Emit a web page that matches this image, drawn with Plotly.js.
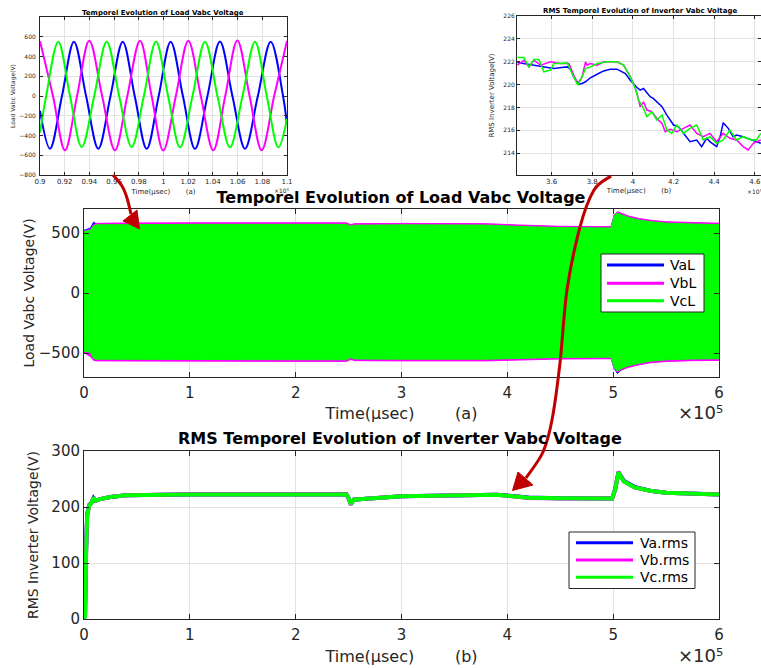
<!DOCTYPE html>
<html><head><meta charset="utf-8">
<script src="https://cdn.plot.ly/plotly-3.0.1.min.js"></script>
<style>html,body{margin:0;padding:0;background:#fff;}#chart{width:761px;height:668px;}</style>
</head><body><div id="chart"></div>
<script>
// ================= DATA =================
const loadNames = ['VaL', 'VbL', 'VcL'];
const rmsNames = ['Va.rms', 'Vb.rms', 'Vc.rms'];
const colors = ['#0000ff', '#ff00ff', '#00ff00'];

// (a) Load voltage envelope (time in x10^5 µsec)
const tEnv = [0, 0.005, 0.06, 0.09, 0.12, 0.3, 1.0, 2.0, 2.48, 2.52, 2.56, 3.0, 3.8, 4.1, 4.5, 4.98, 5.01, 5.04, 5.08, 5.15, 5.25, 5.35, 5.5, 5.75, 5.97, 6.0];
const vaUp = [0, 525, 540, 590, 575, 577, 578, 578, 578, 563, 571, 573, 571, 560, 550, 547, 645, 672, 655, 633, 612, 600, 588, 580, 576, 576];
const vaLo = [0, -490, -500, -555, -560, -562, -563, -563, -563, -550, -557, -559, -559, -552, -544, -542, -628, -670, -640, -612, -592, -575, -564, -557, -555, -555];
const vbUp = [0, 520, 530, 572, 580, 583, 585, 585, 585, 570, 578, 580, 578, 567, 556, 553, 650, 678, 662, 640, 620, 607, 594, 587, 582, 582];
const vbLo = [0, -500, -530, -560, -566, -568, -570, -570, -570, -555, -564, -566, -566, -558, -550, -548, -630, -660, -640, -618, -598, -582, -571, -564, -562, -562];
const vcUp = [0, 515, 522, 560, 568, 570, 572, 572, 572, 558, 565, 568, 566, 555, 545, 542, 640, 668, 650, 628, 607, 595, 582, 575, 570, 570];
const vcLo = [0, -487, -492, -545, -552, -554, -556, -556, -556, -540, -550, -552, -552, -545, -537, -535, -620, -653, -628, -605, -585, -568, -557, -550, -548, -548];

// (b) RMS inverter voltage
const tRms = [0, 0.01, 0.02, 0.03, 0.05, 0.07, 0.09, 0.11, 0.15, 0.25, 0.4, 0.7, 1.0, 1.5, 2.0, 2.48, 2.5, 2.52, 2.55, 2.6, 3.0, 3.5, 3.9, 4.05, 4.2, 4.5, 4.99, 5.02, 5.05, 5.07, 5.1, 5.2, 5.35, 5.5, 5.8, 6.0];
const vaRms = [0, 8, 125, 188, 204, 208, 216, 211, 214, 218, 221, 222, 222.3, 222.4, 222.4, 222.4, 216, 206, 213, 214, 219, 221.4, 221.8, 219.5, 216.8, 215.6, 215, 233, 262, 256, 247, 236, 229, 225.5, 223, 222.5];
const vbRms = [0, 6, 122, 186, 203, 207, 217, 211, 214, 218, 221, 222, 222.6, 222.6, 222.6, 222.6, 215, 204, 213, 214, 219, 221.6, 222, 219, 216.2, 215.4, 215, 231, 263, 255, 246, 235, 229, 225.5, 223, 222.5];
const vcRms = [0, 5, 120, 185, 203, 207, 217, 211, 214, 218, 221, 222, 222.5, 222.5, 222.5, 222.5, 216, 205, 213, 214, 219, 221.5, 222, 219, 216.5, 215.5, 215, 232, 262, 255, 246, 235, 229, 225.5, 223, 222.5];

// inset (a): zoom on load voltages 0.9 - 1.1 x10^5
const zaX = [0.9, 0.9081, 0.9178, 0.9275, 0.9373, 0.9472, 0.9571, 0.9670, 0.9767, 0.9864, 0.9961, 1.0058, 1.0157, 1.0255, 1.0356, 1.0457, 1.0558, 1.0660, 1.0764, 1.0868, 1.0968, 1.1];
const zaY = [-150, -533, 0, 550, 0, -533, 0, 550, 0, -535, 0, 550, 0, -535, 0, 552, 0, -533, 0, 550, 0, -290];
const zbX = [0.9, 0.9105, 0.9202, 0.9300, 0.9399, 0.9503, 0.9607, 0.9707, 0.9810, 0.9904, 0.9998, 1.0100, 1.0201, 1.0302, 1.0403, 1.0500, 1.0598, 1.0697, 1.0795, 1.0896, 1.1];
const zbY = [555, 0, -550, 0, 560, 0, -550, 0, 560, 0, -552, 0, 560, 0, -550, 0, 562, 0, -550, 0, 558];
const zcX = [0.9, 0.9050, 0.9148, 0.9243, 0.9338, 0.9439, 0.9540, 0.9641, 0.9742, 0.9841, 0.9939, 1.0037, 1.0134, 1.0235, 1.0336, 1.0437, 1.0538, 1.0640, 1.0741, 1.0836, 1.0930, 1.1];
const zcY = [-370, 0, 550, 0, -517, 0, 550, 0, -517, 0, 552, 0, -520, 0, 550, 0, -520, 0, 550, 0, -520, -230];

// inset (b): zoom on RMS 3.43 - 4.63 x10^5
const raX = [3.432, 3.53, 3.57, 3.611, 3.65, 3.677, 3.695, 3.709, 3.734, 3.750, 3.767, 3.791, 3.824, 3.856, 3.889, 3.922, 3.963, 3.987, 4.020, 4.036, 4.052, 4.069, 4.085, 4.100, 4.118, 4.143, 4.167, 4.200, 4.224, 4.249, 4.281, 4.314, 4.338, 4.363, 4.380, 4.412, 4.430, 4.444, 4.469, 4.493, 4.510, 4.542, 4.584, 4.608, 4.629];
const raY = [221.93, 221.64, 221.5, 221.41, 221.5, 221.55, 221.3, 220.68, 220.04, 220.1, 220.25, 220.6, 220.91, 221.2, 221.35, 221.35, 220.97, 220.39, 219.75, 219.52, 219.66, 219.3, 218.94, 218.8, 218.5, 218.07, 217.34, 216.47, 216.32, 215.74, 215.01, 215.16, 214.58, 215.31, 215.0, 214.58, 215.5, 216.67, 216.18, 215.45, 215.6, 215.45, 215.16, 215.0, 214.87];
const rbX = [3.432, 3.464, 3.489, 3.513, 3.546, 3.595, 3.644, 3.685, 3.709, 3.729, 3.750, 3.767, 3.775, 3.791, 3.824, 3.856, 3.922, 3.954, 3.979, 4.003, 4.020, 4.036, 4.052, 4.069, 4.093, 4.118, 4.143, 4.159, 4.183, 4.216, 4.249, 4.281, 4.314, 4.346, 4.379, 4.412, 4.444, 4.477, 4.510, 4.542, 4.567, 4.592, 4.629];
const rbY = [221.7, 222.13, 221.55, 222.13, 221.7, 221.99, 221.84, 221.84, 220.83, 220.1, 220.68, 221.99, 221.7, 221.84, 221.7, 221.99, 221.99, 221.7, 220.97, 220.1, 219.23, 218.07, 218.5, 217.78, 217.63, 217.05, 216.61, 215.89, 216.1, 215.89, 216.18, 216.47, 215.74, 215.45, 215.74, 215.01, 215.74, 215.31, 215.16, 214.58, 214.29, 214.87, 215.16];
const rcX = [3.432, 3.464, 3.489, 3.513, 3.538, 3.562, 3.595, 3.611, 3.644, 3.677, 3.693, 3.718, 3.729, 3.750, 3.767, 3.791, 3.824, 3.873, 3.922, 3.954, 3.987, 4.012, 4.028, 4.052, 4.069, 4.093, 4.118, 4.143, 4.167, 4.191, 4.216, 4.249, 4.281, 4.314, 4.346, 4.379, 4.412, 4.444, 4.477, 4.510, 4.542, 4.584, 4.608, 4.629];
const rcY = [222.37, 222.37, 221.55, 222.19, 222.19, 221.12, 221.26, 221.84, 221.84, 221.9, 221.26, 220.39, 219.96, 220.68, 221.41, 221.55, 221.84, 221.99, 221.99, 221.7, 220.68, 219.66, 218.65, 217.92, 217.19, 217.63, 216.9, 217.34, 216.03, 215.74, 216.47, 215.74, 216.18, 216.47, 215.16, 215.45, 214.87, 215.16, 216.03, 215.16, 215.45, 215.16, 215.16, 215.74];

// tick labels
const mainXTicks = [0, 1, 2, 3, 4, 5, 6];
const loadYTicks = [-500, 0, 500];
const rmsYTicks = [0, 100, 200, 300];
const insetAXTicks = [0.9, 0.92, 0.94, 0.96, 0.98, 1.0, 1.02, 1.04, 1.06, 1.08, 1.1];
const insetAXText = ['0.9', '0.92', '0.94', '0.96', '0.98', '1', '1.02', '1.04', '1.06', '1.08', '1.1'];
const insetAYTicks = [-800, -600, -400, -200, 0, 200, 400, 600];
const insetBXTicks = [3.6, 3.8, 4.0, 4.2, 4.4, 4.6];
const insetBXText = ['3.6', '3.8', '4', '4.2', '4.4', '4.6'];
const insetBYTicks = [214, 216, 218, 220, 222, 224, 226];

// ================= LAYOUT HELPERS =================
const W = 761, H = 668;
const X = p => p / W;
const Y = p => 1 - p / H;
const FONT = 'DejaVu Sans, Arial, sans-serif';
const INK = '#262626';
const EXP = '\u00d710\u2075';

function axis(dom, range, tickvals, ticktext, fs, tl, anchor, title, tfs, standoff, labelGap) {
  return {
    domain: dom, range: range, anchor: anchor, tickvals: tickvals, ticktext: ticktext,
    showline: true, linecolor: INK, linewidth: 1, mirror: 'ticks',
    ticks: 'inside', ticklen: tl, tickcolor: INK, tickwidth: 1,
    ticklabelstandoff: labelGap || 0, ticklabeloverflow: 'allow',
    showgrid: true, gridcolor: '#e2e2e2', gridwidth: 1, zeroline: false,
    tickfont: {family: FONT, size: fs, color: INK}, fixedrange: true,
    title: {text: title, font: {family: FONT, size: tfs, color: INK}, standoff: standoff}
  };
}

function envTrace(up, lo, c, xa, ya) {
  return {x: tEnv.concat(tEnv.slice().reverse()), y: up.concat(lo.slice().reverse()),
    mode: 'lines', fill: 'toself', fillcolor: c, line: {color: c, width: 1},
    xaxis: xa, yaxis: ya, showlegend: false, hoverinfo: 'skip'};
}
function lineTrace(x, y, c, w, xa, ya, name, spline) {
  return {x: x, y: y, mode: 'lines', name: name,
    line: {color: c, width: w, shape: spline ? 'spline' : 'linear'},
    xaxis: xa, yaxis: ya, showlegend: false, hoverinfo: 'skip'};
}

const traces = [
  envTrace(vaUp, vaLo, colors[0], 'x', 'y'),
  envTrace(vbUp, vbLo, colors[1], 'x', 'y'),
  envTrace(vcUp, vcLo, colors[2], 'x', 'y'),
  lineTrace(tRms, vaRms, colors[0], 4, 'x2', 'y2', rmsNames[0]),
  lineTrace(tRms, vbRms, colors[1], 4, 'x2', 'y2', rmsNames[1]),
  lineTrace(tRms, vcRms, colors[2], 4, 'x2', 'y2', rmsNames[2]),
  lineTrace(zaX, zaY, colors[0], 2, 'x3', 'y3', loadNames[0], true),
  lineTrace(zbX, zbY, colors[1], 2, 'x3', 'y3', loadNames[1], true),
  lineTrace(zcX, zcY, colors[2], 2, 'x3', 'y3', loadNames[2], true),
  lineTrace(raX, raY, colors[0], 1.5, 'x4', 'y4', rmsNames[0]),
  lineTrace(rbX, rbY, colors[1], 1.5, 'x4', 'y4', rmsNames[1]),
  lineTrace(rcX, rcY, colors[2], 1.5, 'x4', 'y4', rmsNames[2])
];

const sp = n => '\u00a0'.repeat(n);

// smooth arrow path (pixel points -> paper path)
function smoothPath(pts) {
  let d = 'M' + X(pts[0][0]) + ',' + Y(pts[0][1]);
  for (let i = 0; i < pts.length - 1; i++) {
    const p0 = pts[i - 1] || pts[i], p1 = pts[i], p2 = pts[i + 1], p3 = pts[i + 2] || p2;
    const c1 = [p1[0] + (p2[0] - p0[0]) / 6, p1[1] + (p2[1] - p0[1]) / 6];
    const c2 = [p2[0] - (p3[0] - p1[0]) / 6, p2[1] - (p3[1] - p1[1]) / 6];
    d += ' C' + X(c1[0]) + ',' + Y(c1[1]) + ' ' + X(c2[0]) + ',' + Y(c2[1]) + ' ' + X(p2[0]) + ',' + Y(p2[1]);
  }
  return d;
}
function polyPath(pts) {
  return pts.map((p, i) => (i ? 'L' : 'M') + X(p[0]) + ',' + Y(p[1])).join(' ') + ' Z';
}
const RED = '#c00000';
const shapes = [
  {type: 'path', xref: 'paper', yref: 'paper', path: smoothPath([[113, 175], [122, 186], [127, 198], [131, 214]]), line: {color: RED, width: 3}},
  {type: 'path', xref: 'paper', yref: 'paper', path: polyPath([[123, 221], [137, 210], [139.5, 229]]), fillcolor: RED, line: {color: RED, width: 1}},
  {type: 'path', xref: 'paper', yref: 'paper', path: smoothPath([[611, 176], [594, 190], [580, 227], [567, 290], [560, 363], [552, 420], [543, 452], [526, 478]]), line: {color: RED, width: 3}},
  {type: 'path', xref: 'paper', yref: 'paper', path: polyPath([[512.5, 490.5], [518, 472], [533, 485]]), fillcolor: RED, line: {color: RED, width: 1}}
];

const annotations = [
  {xref: 'paper', yref: 'paper', x: X(399.5), y: Y(438.5), xanchor: 'center', yanchor: 'middle', showarrow: false,
    text: 'RMS Temporel Evolution of Inverter Vabc Voltage', font: {family: FONT, size: 16, color: '#000', weight: 'bold'}},
  {xref: 'paper', yref: 'paper', x: X(162.5), y: Y(12.5), xanchor: 'center', yanchor: 'middle', showarrow: false,
    text: 'Temporel Evolution of Load Vabc Voltage', font: {family: FONT, size: 7, color: '#000', weight: 'bold'}},
  {xref: 'paper', yref: 'paper', x: X(640), y: Y(10.5), xanchor: 'center', yanchor: 'middle', showarrow: false,
    text: 'RMS Temporel Evolution of Inverter Vabc Voltage', font: {family: FONT, size: 7, color: '#000', weight: 'bold'}},
  {xref: 'paper', yref: 'paper', x: X(28.5), y: Y(293), xanchor: 'center', yanchor: 'middle', showarrow: false, textangle: -90,
    text: 'Load Vabc Voltage(V)', font: {family: FONT, size: 14, color: INK}},
  {xref: 'paper', yref: 'paper', x: X(676), y: Y(412), xanchor: 'left', yanchor: 'middle', showarrow: false,
    text: EXP, font: {family: FONT, size: 18, color: INK}},
  {xref: 'paper', yref: 'paper', x: X(676), y: Y(655), xanchor: 'left', yanchor: 'middle', showarrow: false,
    text: EXP, font: {family: FONT, size: 18, color: INK}},
  {xref: 'paper', yref: 'paper', x: X(272), y: Y(190), xanchor: 'left', yanchor: 'middle', showarrow: false,
    text: EXP, font: {family: FONT, size: 6, color: INK}},
  {xref: 'paper', yref: 'paper', x: X(745), y: Y(191), xanchor: 'left', yanchor: 'middle', showarrow: false,
    text: EXP, font: {family: FONT, size: 6, color: INK}}
];

// manual legends (long line samples as in the reference)
function legend(box, lineX, ys, textX, names, fs) {
  shapes.push({type: 'rect', xref: 'paper', yref: 'paper', x0: X(box[0]), x1: X(box[1]), y0: Y(box[2]), y1: Y(box[3]),
    fillcolor: '#ffffff', line: {color: INK, width: 1}, layer: 'above'});
  names.forEach((n, i) => {
    shapes.push({type: 'line', xref: 'paper', yref: 'paper', x0: X(lineX[0]), x1: X(lineX[1]), y0: Y(ys[i]), y1: Y(ys[i]),
      line: {color: colors[i], width: 3}, layer: 'above'});
    annotations.push({xref: 'paper', yref: 'paper', x: X(textX), y: Y(ys[i]), xanchor: 'left', yanchor: 'middle',
      text: n, showarrow: false, font: {family: FONT, size: fs, color: '#000'}});
  });
}
legend([601, 704, 254, 312], [607, 664], [265, 283.3, 300.7], 668, loadNames, 14);
legend([569, 695, 532, 588.5], [576, 633], [542.7, 560, 577.3], 638, rmsNames, 14);

const layout = {
  width: W, height: H, margin: {l: 0, r: 0, t: 0, b: 0},
  paper_bgcolor: '#ffffff', plot_bgcolor: '#ffffff', showlegend: false,
  title: {text: 'Temporel Evolution of Load Vabc Voltage', xref: 'paper', yref: 'paper', x: X(401), xanchor: 'center',
    y: Y(197), yanchor: 'middle', font: {family: FONT, size: 16, color: '#000', weight: 'bold'}},
  xaxis: axis([X(84), X(719)], [0, 6], mainXTicks, null, 15, 5, 'y', 'Time(\u00b5sec)' + sp(8) + '(a)', 16, 6, 2),
  yaxis: axis([Y(377), Y(209)], [-700, 700], loadYTicks, null, 15, 5, 'x', '', 14, 1, 0),
  xaxis2: axis([X(84), X(719)], [0, 6], mainXTicks, null, 15, 5, 'y2', 'Time(\u00b5sec)' + sp(8) + '(b)', 16, 7, 2),
  yaxis2: axis([Y(619), Y(451)], [0, 300], rmsYTicks, null, 15, 5, 'x2', 'RMS Inverter Voltage(V)', 14, 9, 0),
  xaxis3: axis([X(40), X(287)], [0.9, 1.1], insetAXTicks, insetAXText, 7, 3, 'y3', 'Time(\u00b5sec)' + sp(7) + '(a)', 7, 3, 0),
  yaxis3: axis([Y(175), Y(17)], [-800, 800], insetAYTicks, null, 6, 3, 'x3', 'Load Vabc Voltage(V)', 6, 3, 2),
  xaxis4: axis([X(517), 1], [3.43, 4.63], insetBXTicks, insetBXText, 7, 3, 'y4', 'Time(\u00b5sec)' + sp(7) + '(b)', 7, 2, 0),
  yaxis4: axis([Y(175), Y(16)], [212.1, 226], insetBYTicks, null, 6, 3, 'x4', 'RMS Inverter Voltage(V)', 7, 7, 0),
  shapes: shapes,
  annotations: annotations
};

Plotly.newPlot('chart', traces, layout, {displayModeBar: false, staticPlot: true});
</script>
</body></html>
